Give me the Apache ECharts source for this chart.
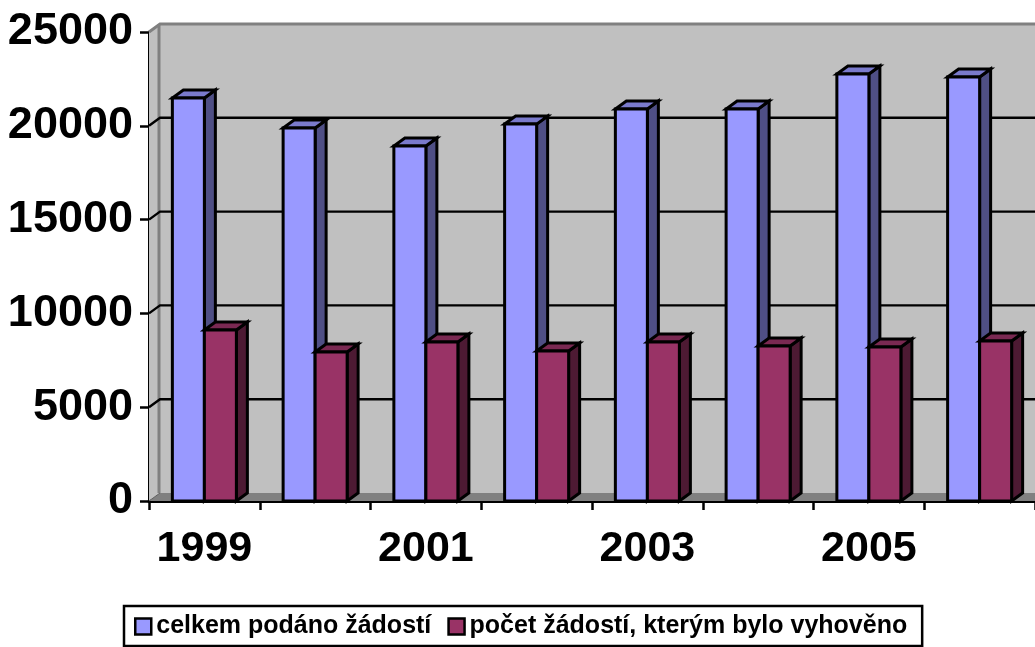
<!DOCTYPE html>
<html><head><meta charset="utf-8">
<style>html,body{margin:0;padding:0;background:#fff}#c{width:1035px;height:647px}</style>
<script src="https://cdn.jsdelivr.net/npm/echarts@6/dist/echarts.min.js"></script>
</head><body><div id="c"></div>
<script>
const categories = ['1999','2000','2001','2002','2003','2004','2005','2006'];
const submitted = [21480,19880,18920,20090,20900,20900,22760,22600];
const granted = [9115,7940,8475,8000,8475,8260,8210,8530];
const yTicks = [5000,10000,15000,20000,25000];
const seriesNames = ['celkem podáno žádostí','počet žádostí, kterým bylo vyhověno'];

const DX = 11, DY = -8;
const barShare = 0.289;
const font = '"Liberation Sans", Arial, sans-serif';

function poly(points, fill, stroke, lw){
  return {type:'polygon', shape:{points}, style:{fill, stroke:stroke||null, lineWidth:lw||0, lineJoin:'miter'}};
}
function line(pts, stroke, lw){
  return {type:'polyline', shape:{points:pts}, style:{fill:null, stroke, lineWidth:lw}};
}
function wallsItem(params, api){
  const g = params.coordSys;
  const b = g.y + g.height, t = g.y, l = g.x, r = g.x + g.width;
  return {type:'group', children:[
    poly([[l,b],[l+DX,b+DY],[l+DX,t+DY],[l,t]], '#C0C0C0'),
    poly([[l+DX,b+DY],[r,b+DY],[r,t+DY],[l+DX,t+DY]], '#C0C0C0'),
    poly([[l,b],[l+DX,b+DY],[r,b+DY],[r,b]], '#808080'),
    line([[l,t],[l+DX,t+DY],[r,t+DY]], '#808080', 3),
    line([[l+DX-1,t+DY],[l+DX-1,b+DY]], '#808080', 3),
    line([[l,b],[l+DX,b+DY]], '#606060', 1)
  ]};
}
function gridItem(params, api){
  const g = params.coordSys;
  const p = api.coord([0, api.value(1)]);
  const y = p[1];
  if (api.value(1) === 25000) return {type:'group', children:[]};
  return line([[g.x,y],[g.x+DX,y+DY],[g.x+g.width,y+DY]], '#000', 2.4);
}
function barItem(offsetSign, front, top, side){
  return function(params, api){
    const base = api.coord([api.value(0), 0]);
    const head = api.coord([api.value(0), api.value(1)]);
    const w = api.size([1,0])[0] * barShare;
    const x0 = offsetSign < 0 ? base[0] - w : base[0];
    const x1 = x0 + w, yb = base[1], yt = head[1];
    const s = '#000', lw = 3;
    return {type:'group', children:[
      poly([[x1,yb],[x1+DX,yb+DY],[x1+DX,yt+DY],[x1,yt]], side, s, lw),
      poly([[x0,yt],[x1,yt],[x1+DX,yt+DY],[x0+DX,yt+DY]], top, s, lw),
      poly([[x0,yb],[x1,yb],[x1,yt],[x0,yt]], front, s, lw)
    ]};
  };
}
const chart = echarts.init(document.getElementById('c'), null, {renderer:'canvas'});
chart.setOption({
  animation:false,
  backgroundColor:'#fff',
  textStyle:{fontFamily:font},
  grid:{left:149,right:0,top:32,bottom:146,containLabel:false,outerBoundsMode:'none'},
  legend:{
    left:124, top:606, orient:'horizontal', data:seriesNames,
    icon:'rect', itemWidth:16, itemHeight:16, itemGap:16,
    backgroundColor:'#fff', borderColor:'#000', borderWidth:2.5,
    padding:[8,15,7,10],
    itemStyle:{borderColor:'#000',borderWidth:2.5},
    textStyle:{fontFamily:font,fontWeight:'bold',fontSize:25,color:'#000',padding:[0,0,0,0]}
  },
  xAxis:{
    type:'category', data:categories, boundaryGap:true,
    axisLine:{show:true,onZero:false,lineStyle:{color:'#000',width:3}},
    axisTick:{show:true,length:9,interval:0,lineStyle:{color:'#000',width:2.5}},
    axisLabel:{interval:1,margin:27,hideOverlap:false,color:'#000',fontFamily:font,fontWeight:'bold',fontSize:43},
    splitLine:{show:false}
  },
  yAxis:{
    type:'value', min:0, max:25000, interval:5000,
    axisLine:{show:true,lineStyle:{color:'#000',width:3}},
    axisTick:{show:true,length:9,lineStyle:{color:'#000',width:2.5}},
    axisLabel:{margin:16,color:'#000',fontFamily:font,fontWeight:'bold',fontSize:45,padding:[6,0,0,0],formatter:v=>String(v)},
    splitLine:{show:false}
  },
  series:[
    {type:'custom',name:'walls',z:1,silent:true,clip:false,renderItem:wallsItem,data:[[0,0]],encode:{x:0,y:1}},
    {type:'custom',name:'gridlines',z:2,silent:true,clip:false,renderItem:gridItem,data:yTicks.map(v=>[0,v]),encode:{x:0,y:1}},
    {type:'custom',name:seriesNames[0],z:3,clip:false,itemStyle:{color:'#9999FF'},
      renderItem:barItem(-1,'#9999FF','#7A7ACC','#4F4F85'),
      data:submitted.map((v,i)=>[i,v]),encode:{x:0,y:1}},
    {type:'custom',name:seriesNames[1],z:4,clip:false,itemStyle:{color:'#993366'},
      renderItem:barItem(1,'#993366','#7A2952','#4D1A33'),
      data:granted.map((v,i)=>[i,v]),encode:{x:0,y:1}}
  ]
});
</script></body></html>
